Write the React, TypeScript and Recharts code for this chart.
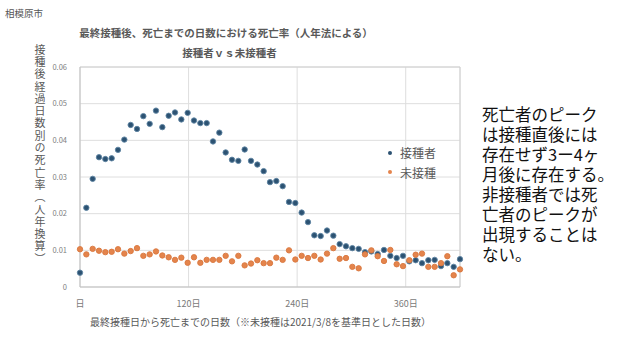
import React from "react";
import { ScatterChart, Scatter, XAxis, YAxis, CartesianGrid, Legend, ReferenceLine } from "recharts";

// 最終接種からの経過日数（週ごと）
const days = [
  0, 7, 14, 21, 28, 35, 42, 49, 56, 63, 70, 77, 84, 91, 98, 105, 112, 119, 126, 133,
  140, 147, 154, 161, 168, 175, 182, 189, 196, 203, 210, 217, 224, 231, 238, 245, 252, 259, 266, 273,
  280, 287, 294, 301, 308, 315, 322, 329, 336, 343, 350, 357, 364, 371, 378, 385, 392, 399, 406, 413, 420,
];

const vaccinated = [
  0.0039, 0.0216, 0.0295, 0.0354, 0.0349, 0.0351, 0.0374, 0.0402, 0.0442, 0.0431,
  0.0466, 0.0445, 0.0481, 0.0436, 0.0467, 0.0476, 0.0457, 0.0475, 0.0454, 0.0447,
  0.0447, 0.0397, 0.0421, 0.0367, 0.0347, 0.0344, 0.0375, 0.0344, 0.0334, 0.0316,
  0.0286, 0.0289, 0.0275, 0.0232, 0.0229, 0.0203, 0.0177, 0.0141, 0.0139, 0.0154,
  0.014, 0.0117, 0.0111, 0.0106, 0.0104, 0.0095, 0.0097, 0.009, 0.0101, 0.0085,
  0.0079, 0.0085, 0.007, 0.0073, 0.0065, 0.0073, 0.0074, 0.0057, 0.0065, 0.0055, 0.0076,
];

const unvaccinated = [
  0.0103, 0.0089, 0.0104, 0.0099, 0.0095, 0.0096, 0.0103, 0.0091, 0.0098, 0.0106,
  0.0085, 0.0089, 0.0097, 0.0086, 0.0081, 0.0074, 0.008, 0.0066, 0.0081, 0.0066,
  0.0074, 0.0074, 0.0074, 0.0085, 0.007, 0.0085, 0.0059, 0.0064, 0.0073, 0.0065,
  0.0065, 0.008, 0.0074, 0.01, 0.0075, 0.0085, 0.0079, 0.0085, 0.0075, 0.0091,
  0.0106, 0.0077, 0.0079, 0.0055, 0.0051, 0.0089, 0.01, 0.0084, 0.0071, 0.0101,
  0.0062, 0.0057, 0.0073, 0.0088, 0.0091, 0.0055, 0.0055, 0.0065, 0.0084, 0.0032, 0.0048,
];

const xTicks = [0, 120, 240, 360];
const yTicks = [0, 0.01, 0.02, 0.03, 0.04, 0.05, 0.06];

const noteLines = [
  "死亡者のピーク",
  "は接種直後には",
  "存在せず3ー4ヶ",
  "月後に存在する。",
  "非接種者では死",
  "亡者のピークが",
  "出現することは",
  "ない。",
];

const vacData = days.map((d, i) => ({ d, v: vaccinated[i] }));
const unvacData = days.map((d, i) => ({ d, v: unvaccinated[i] }));

const FONT = '"Noto Sans CJK JP", "Noto Sans", sans-serif';
const BLUE = "#2c5272";
const ORANGE = "#e4844c";

const dot = (fill: string, ring: string) => (p: any) =>
  <circle cx={p.cx} cy={p.cy} r={2.7} fill={fill} stroke={ring} strokeWidth={0.9} />;

function LegendBox() {
  const items = [
    { name: "接種者", color: BLUE },
    { name: "未接種", color: ORANGE },
  ];
  return (
    <div style={{ fontFamily: FONT }}>
      {items.map((it) => (
        <div key={it.name} style={{ display: "flex", alignItems: "center", height: 19.5, fontSize: 12, color: "#595959" }}>
          <span style={{ width: 4, height: 4, borderRadius: 2, background: it.color, marginRight: 8 }} />
          {it.name}
        </div>
      ))}
    </div>
  );
}

export default function App() {
  return (
    <div style={{ position: "absolute", left: 0, top: 0, width: 634, height: 357, background: "#fff", fontFamily: FONT }}>
      <div style={{ position: "absolute", left: 5, top: 6, fontSize: 9.5, color: "#555", lineHeight: "14px" }}>相模原市</div>
      <div style={{ position: "absolute", left: 0, width: 452, top: 25, textAlign: "center", fontSize: 10.5, fontWeight: 700, color: "#595959", lineHeight: "16px" }}>
        最終接種後、死亡までの日数における死亡率（人年法による）
      </div>
      <div style={{ position: "absolute", left: 0, width: 459, top: 45, textAlign: "center", fontSize: 10.5, fontWeight: 700, color: "#595959", lineHeight: "16px" }}>
        接種者ｖｓ未接種者
      </div>
      <div style={{ position: "absolute", left: 33, top: 44, writingMode: "vertical-rl", textOrientation: "upright", fontSize: 11, letterSpacing: 1.3, color: "#595959", lineHeight: "14px" }}>
        接種後経過日数別の死亡率（人年換算）
      </div>
      <ScatterChart width={634} height={357} margin={{ top: 67, right: 174, bottom: 50, left: 0 }}>
        <CartesianGrid stroke="#dedede" strokeWidth={1} />
        <XAxis
          type="number"
          dataKey="d"
          domain={[0, 420]}
          ticks={xTicks}
          tickFormatter={(v: number) => (v === 0 ? "日" : `${v}日`)}
          stroke="#bfbfbf"
          tickLine={false}
          tickSize={6}
          tickMargin={8}
          height={20}
          tick={{ fontSize: 9, fill: "#7a7a7a", fontFamily: FONT }}
        />
        <YAxis
          type="number"
          dataKey="v"
          domain={[0, 0.06]}
          ticks={yTicks}
          tickFormatter={(v: number) => (v === 0 ? "0" : v.toFixed(2))}
          stroke="#bfbfbf"
          tickLine={false}
          tickSize={6}
          tickMargin={7}
          width={80}
          tick={{ fontSize: 7.5, fill: "#808080", fontFamily: FONT }}
        />
        <ReferenceLine x={420} stroke="#d0d0d0" />
        <ReferenceLine y={0.06} stroke="#d0d0d0" />
        <Legend
          layout="horizontal"
          verticalAlign="middle"
          align="center"
          wrapperStyle={{ left: 388, top: 143, width: 70 }}
          content={() => <LegendBox />}
        />
        <Scatter name="接種者" data={vacData} fill={BLUE} shape={dot(BLUE, "#5f84a3")} isAnimationActive={false} />
        <Scatter name="未接種" data={unvacData} fill={ORANGE} shape={dot(ORANGE, "#d9773e")} isAnimationActive={false} />
      </ScatterChart>
      <div style={{ position: "absolute", left: 0, width: 521, top: 314, textAlign: "center", fontSize: 10, color: "#595959", lineHeight: "16px" }}>
        最終接種日から死亡までの日数（※未接種は2021/3/8を基準日とした日数）
      </div>
      <div style={{ position: "absolute", left: 482, top: 104, fontSize: 16.5, color: "#111", lineHeight: "20px", whiteSpace: "nowrap" }}>
        {noteLines.map((l) => (
          <div key={l} style={{ height: 20 }}>{l}</div>
        ))}
      </div>
    </div>
  );
}
